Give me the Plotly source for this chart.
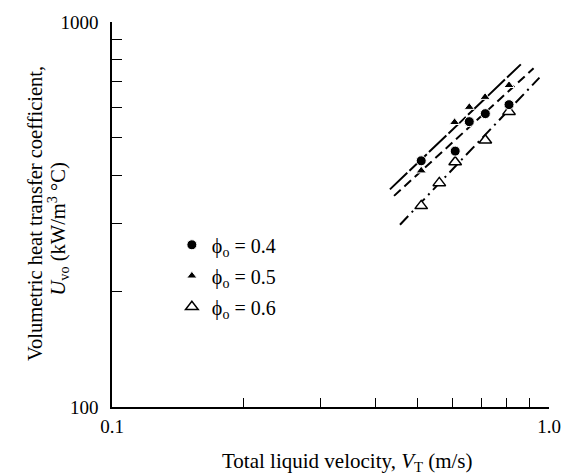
import plotly.graph_objects as go

# Data
V_04 = [0.51, 0.61, 0.657, 0.715, 0.81]
U_04 = [436, 462, 551, 578, 610]
V_05 = [0.51, 0.608, 0.657, 0.714, 0.81]
U_05 = [411, 549, 601, 638, 685]
V_06 = [0.51, 0.561, 0.61, 0.715, 0.81]
U_06 = [333, 382, 433, 493, 585]

# Correlation lines (end points)
L_solid_V = [0.4325, 0.862]
L_solid_U = [367.5, 776]
L_dash_V = [0.442, 0.922]
L_dash_U = [353.5, 758]
L_dashdot_V = [0.456, 0.951]
L_dashdot_U = [297.5, 717]

x_major = [0.1, 1.0]
x_major_text = ["0.1", "1.0"]
x_minor = [0.2, 0.3, 0.4, 0.5, 0.6, 0.7, 0.8, 0.9]
y_major = [100, 1000]
y_major_text = ["100", "1000"]
y_minor = [200, 300, 400, 500, 600, 700, 800, 900]

FONT = "Liberation Serif"

fig = go.Figure()

for xs, ys, dash in [(L_solid_V, L_solid_U, "24px,3px"),
                     (L_dash_V, L_dash_U, "9px,5px"),
                     (L_dashdot_V, L_dashdot_U, "12px,5px,2px,5px")]:
    fig.add_trace(go.Scatter(x=xs, y=ys, mode="lines", showlegend=False,
                             line=dict(color="black", width=2, dash=dash),
                             hoverinfo="skip"))

fig.add_trace(go.Scatter(
    x=V_06, y=U_06, mode="markers", name="ϕ<sub>o</sub> = 0.6", legendrank=3,
    legendgroup="c",
    marker=dict(symbol="triangle-up", size=11, color="white",
                line=dict(color="black", width=1.5))))
fig.add_trace(go.Scatter(
    x=V_05, y=U_05, mode="markers", name="ϕ<sub>o</sub> = 0.5", legendrank=2,
    legendgroup="b",
    marker=dict(symbol="triangle-up", size=9, color="black",
                line=dict(color="white", width=1))))
fig.add_trace(go.Scatter(
    x=V_04, y=U_04, mode="markers", name="ϕ<sub>o</sub> = 0.4", legendrank=1,
    legendgroup="a",
    marker=dict(symbol="circle", size=10, color="black",
                line=dict(color="white", width=1))))

fig.update_layout(
    width=573, height=474,
    margin=dict(l=112, r=15, t=19, b=67),
    paper_bgcolor="white", plot_bgcolor="white",
    font=dict(family=FONT, size=19, color="black"),
    showlegend=True,
    legend=dict(x=0.137, y=0.472, xanchor="left", yanchor="top",
                bgcolor="rgba(0,0,0,0)", font=dict(family=FONT, size=20),
                tracegroupgap=2, itemsizing="trace"),
    xaxis=dict(type="log", range=[-1, 0], showgrid=False, zeroline=False,
               showline=True, linecolor="black", linewidth=1.5,
               ticks="inside", tickmode="array", tickvals=x_major,
               ticktext=x_major_text, ticklen=16, tickwidth=1.5,
               tickcolor="black", ticklabelstandoff=1,
               tickfont=dict(family=FONT, size=19),
               minor=dict(ticks="inside", tickmode="array", tickvals=x_minor,
                          ticklen=9, tickwidth=1.2, tickcolor="black",
                          showgrid=False)),
    yaxis=dict(type="log", range=[2, 3], showgrid=False, zeroline=False,
               showline=True, linecolor="black", linewidth=1.5,
               ticks="inside", tickmode="array", tickvals=y_major,
               ticktext=y_major_text, ticklen=16, tickwidth=1.5,
               tickcolor="black", ticklabelstandoff=8,
               tickfont=dict(family=FONT, size=19),
               minor=dict(ticks="inside", tickmode="array", tickvals=y_minor,
                          ticklen=10, tickwidth=1.2, tickcolor="black",
                          showgrid=False)),
    annotations=[
        dict(text="Volumetric heat transfer coefficient,",
             xref="paper", yref="paper", x=-0.1749, y=0.5026,
             xanchor="center", yanchor="middle", textangle=-90,
             showarrow=False, font=dict(family=FONT, size=20.5)),
        dict(text="<i>U</i><sub>vo</sub> (kW/m<sup>3</sup> °C)",
             xref="paper", yref="paper", x=-0.1235, y=0.461,
             xanchor="center", yanchor="middle", textangle=-90,
             showarrow=False, font=dict(family=FONT, size=20.5)),
        dict(text="Total liquid velocity, <i>V</i><sub>T</sub> (m/s)",
             xref="paper", yref="paper", x=0.54, y=-0.1418,
             xanchor="center", yanchor="middle",
             showarrow=False, font=dict(family=FONT, size=21)),
    ],
)

fig.write_html("out.html")
